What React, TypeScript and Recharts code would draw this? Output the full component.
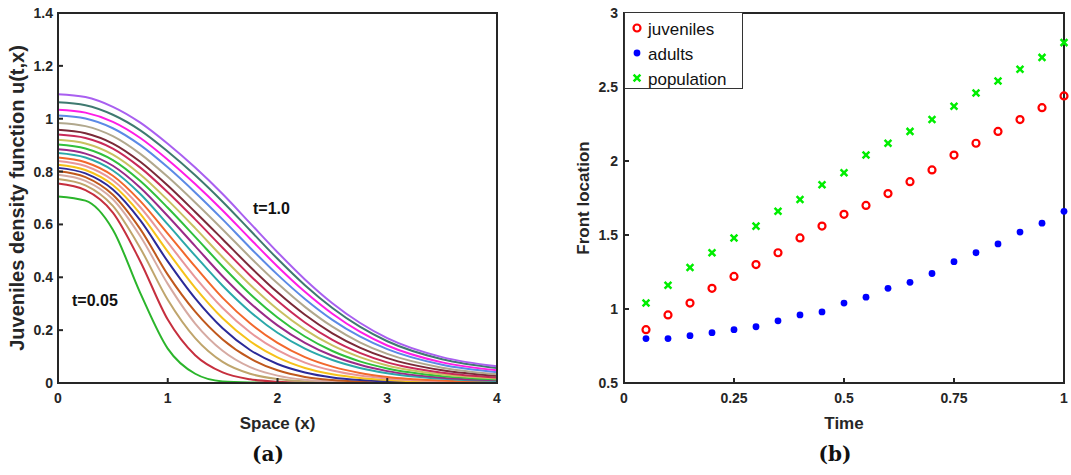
import React from 'react';
import { LineChart, Line, XAxis, YAxis, ScatterChart, Scatter, ReferenceDot, ReferenceArea } from 'recharts';

// ---- panel (a): juveniles density u(t,x), one array per time step ----
const spaceX = [0, 0.25, 0.5, 0.75, 1, 1.25, 1.5, 1.75, 2, 2.25, 2.5, 2.75, 3, 3.5, 4];

const u005 = [0.706, 0.69, 0.58, 0.34, 0.13, 0.035, 0.006, 0.002, 0.001, 0, 0, 0, 0, 0, 0];
const u010 = [0.755, 0.73, 0.645, 0.46, 0.24, 0.105, 0.04, 0.014, 0.005, 0.002, 0.001, 0, 0, 0, 0];
const u015 = [0.772, 0.748, 0.67, 0.51, 0.315, 0.17, 0.08, 0.035, 0.015, 0.006, 0.002, 0.001, 0, 0, 0];
const u020 = [0.788, 0.765, 0.695, 0.555, 0.375, 0.225, 0.122, 0.06, 0.028, 0.012, 0.005, 0.002, 0.001, 0, 0];
const u025 = [0.801, 0.779, 0.712, 0.582, 0.41, 0.27, 0.165, 0.093, 0.048, 0.023, 0.011, 0.005, 0.002, 0, 0];
const u030 = [0.814, 0.793, 0.732, 0.615, 0.46, 0.32, 0.207, 0.125, 0.072, 0.04, 0.021, 0.011, 0.006, 0.002, 0.001];
const u035 = [0.826, 0.806, 0.749, 0.64, 0.497, 0.36, 0.245, 0.158, 0.097, 0.057, 0.033, 0.019, 0.011, 0.004, 0.001];
const u040 = [0.84, 0.821, 0.767, 0.665, 0.532, 0.4, 0.284, 0.192, 0.124, 0.077, 0.047, 0.028, 0.017, 0.006, 0.002];
const u045 = [0.853, 0.835, 0.784, 0.688, 0.565, 0.44, 0.322, 0.226, 0.152, 0.098, 0.062, 0.038, 0.023, 0.009, 0.003];
const u050 = [0.87, 0.853, 0.804, 0.715, 0.6, 0.482, 0.368, 0.27, 0.19, 0.13, 0.087, 0.057, 0.037, 0.016, 0.008];
const u055 = [0.884, 0.868, 0.822, 0.739, 0.632, 0.518, 0.404, 0.303, 0.218, 0.152, 0.103, 0.069, 0.045, 0.02, 0.01];
const u060 = [0.902, 0.887, 0.843, 0.764, 0.663, 0.553, 0.441, 0.337, 0.248, 0.176, 0.121, 0.082, 0.055, 0.026, 0.013];
const u065 = [0.92, 0.906, 0.864, 0.789, 0.692, 0.586, 0.476, 0.372, 0.279, 0.202, 0.142, 0.098, 0.066, 0.032, 0.017];
const u070 = [0.94, 0.927, 0.887, 0.815, 0.722, 0.619, 0.512, 0.407, 0.311, 0.229, 0.163, 0.114, 0.078, 0.039, 0.021];
const u075 = [0.958, 0.945, 0.906, 0.837, 0.747, 0.647, 0.544, 0.44, 0.343, 0.258, 0.188, 0.134, 0.094, 0.048, 0.027];
const u080 = [0.984, 0.972, 0.934, 0.867, 0.78, 0.683, 0.581, 0.476, 0.377, 0.288, 0.213, 0.154, 0.11, 0.058, 0.033];
const u085 = [1.012, 1.001, 0.964, 0.9, 0.816, 0.721, 0.619, 0.512, 0.41, 0.318, 0.239, 0.176, 0.128, 0.069, 0.041];
const u090 = [1.034, 1.023, 0.988, 0.927, 0.845, 0.753, 0.653, 0.546, 0.441, 0.345, 0.262, 0.194, 0.142, 0.078, 0.048];
const u095 = [1.062, 1.051, 1.015, 0.956, 0.876, 0.786, 0.686, 0.578, 0.47, 0.37, 0.284, 0.213, 0.158, 0.09, 0.057];
const u100 = [1.093, 1.082, 1.045, 0.985, 0.905, 0.815, 0.715, 0.605, 0.495, 0.392, 0.302, 0.228, 0.17, 0.098, 0.063];

const profiles = [
  { key: 'u005', values: u005, color: '#2bb52b' },
  { key: 'u010', values: u010, color: '#c62f3e' },
  { key: 'u015', values: u015, color: '#bfa56c' },
  { key: 'u020', values: u020, color: '#d6aaa2' },
  { key: 'u025', values: u025, color: '#c0581c' },
  { key: 'u030', values: u030, color: '#2b2a98' },
  { key: 'u035', values: u035, color: '#f6c21a' },
  { key: 'u040', values: u040, color: '#e8979a' },
  { key: 'u045', values: u045, color: '#f2682c' },
  { key: 'u050', values: u050, color: '#2ba8aa' },
  { key: 'u055', values: u055, color: '#9a2a88' },
  { key: 'u060', values: u060, color: '#30c03c' },
  { key: 'u065', values: u065, color: '#c9c062' },
  { key: 'u070', values: u070, color: '#c92a58' },
  { key: 'u075', values: u075, color: '#7a2a38' },
  { key: 'u080', values: u080, color: '#b1a88e' },
  { key: 'u085', values: u085, color: '#5b8ae6' },
  { key: 'u090', values: u090, color: '#ff1de6' },
  { key: 'u095', values: u095, color: '#3f7a70' },
  { key: 'u100', values: u100, color: '#a95ff0' },
];

const densityRows = spaceX.map((x, i) => {
  const row: Record<string, number> = { x };
  profiles.forEach((p) => { row[p.key] = p.values[i]; });
  return row;
});

const spaceTicks = [0, 1, 2, 3, 4];
const densityTicks = [0, 0.2, 0.4, 0.6, 0.8, 1, 1.2, 1.4];

// ---- panel (b): front locations ----
const times = [0.05, 0.1, 0.15, 0.2, 0.25, 0.3, 0.35, 0.4, 0.45, 0.5, 0.55, 0.6, 0.65, 0.7, 0.75, 0.8, 0.85, 0.9, 0.95, 1];
const juveniles = [0.86, 0.96, 1.04, 1.14, 1.22, 1.3, 1.38, 1.48, 1.56, 1.64, 1.7, 1.78, 1.86, 1.94, 2.04, 2.12, 2.2, 2.28, 2.36, 2.44];
const adults = [0.8, 0.8, 0.82, 0.84, 0.86, 0.88, 0.92, 0.96, 0.98, 1.04, 1.08, 1.14, 1.18, 1.24, 1.32, 1.38, 1.44, 1.52, 1.58, 1.66];
const population = [1.04, 1.16, 1.28, 1.38, 1.48, 1.56, 1.66, 1.74, 1.84, 1.92, 2.04, 2.12, 2.2, 2.28, 2.37, 2.46, 2.54, 2.62, 2.7, 2.8];

const timeTicks = [0, 0.25, 0.5, 0.75, 1];
const frontTicks = [0.5, 1, 1.5, 2, 2.5, 3];

const toPoints = (vals: number[]) => times.map((t, i) => ({ t, v: vals[i] }));

const AXIS = '#262626';
const FONT = '"Liberation Sans", Arial, sans-serif';
const tickStyle = { fontSize: 14, fontWeight: 700, fill: AXIS, fontFamily: FONT };
const titleStyle = { fontSize: 17, fontWeight: 700, fill: AXIS, fontFamily: FONT };
const axisLine = { stroke: AXIS, strokeWidth: 2 };

const RED = '#ff0000';
const BLUE = '#0000ff';
const GREEN = '#00ee00';

const OpenCircle = (props: any) => (
  <circle cx={props.cx} cy={props.cy} r={3.5} fill="none" stroke={RED} strokeWidth={2.2} />
);
const FilledDot = (props: any) => (
  <circle cx={props.cx} cy={props.cy} r={3.4} fill={BLUE} />
);
const Cross = (props: any) => {
  const { cx, cy } = props;
  const s = 3.4;
  return (
    <path
      d={`M${cx - s},${cy - s}L${cx + s},${cy + s}M${cx - s},${cy + s}L${cx + s},${cy - s}`}
      stroke={GREEN}
      strokeWidth={2.5}
      fill="none"
    />
  );
};
const NoMark = () => <g />;

const legendItems = [
  { name: 'juveniles', Marker: OpenCircle },
  { name: 'adults', Marker: FilledDot },
  { name: 'population', Marker: Cross },
];

const panelLabel: React.CSSProperties = {
  position: 'absolute',
  top: 442,
  fontFamily: '"DejaVu Serif", serif',
  fontWeight: 700,
  fontSize: 20,
  color: '#111',
  transform: 'translateX(-50%)',
};

const App = () => {
  return (
    <div style={{ position: 'absolute', left: 0, top: 0, width: 1071, height: 475, background: '#fff' }}>
      <div style={{ position: 'absolute', left: 0, top: 0 }}>
        <LineChart width={520} height={475} data={densityRows} margin={{ top: 12, right: 22, bottom: 42, left: 0 }}>
          <XAxis
            dataKey="x"
            type="number"
            domain={[0, 4]}
            ticks={spaceTicks}
            tickSize={-5}
            tickMargin={15}
            height={50}
            axisLine={axisLine}
            tickLine={axisLine}
            tick={tickStyle}
            label={{ value: 'Space (x)', position: 'insideBottom', offset: 4, ...titleStyle }}
          />
          <XAxis xAxisId="top" dataKey="x" orientation="top" type="number" domain={[0, 4]} ticks={spaceTicks}
            tick={false} tickSize={-5} height={1} axisLine={axisLine} tickLine={axisLine} />
          <YAxis
            type="number"
            domain={[0, 1.4]}
            ticks={densityTicks}
            tickSize={-5}
            tickMargin={10}
            width={58}
            axisLine={axisLine}
            tickLine={axisLine}
            tick={tickStyle}
            label={{ value: 'Juveniles density function u(t,x)', angle: -90, position: 'insideLeft', offset: 17, ...titleStyle, fontSize: 20, style: { textAnchor: 'middle' } }}
          />
          <YAxis yAxisId="right" orientation="right" type="number" domain={[0, 1.4]} ticks={densityTicks}
            tick={false} tickSize={-5} width={1} axisLine={axisLine} tickLine={axisLine} />
          <Line xAxisId="top" yAxisId="right" dataKey="u100" stroke="none" dot={false} legendType="none" isAnimationActive={false} />
          {profiles.map((p) => (
            <Line
              key={p.key}
              type="monotone"
              dataKey={p.key}
              stroke={p.color}
              strokeWidth={2}
              dot={false}
              isAnimationActive={false}
            />
          ))}
          <ReferenceArea x1={0} x2={4} y1={0} y2={1.4} fill="none" stroke={AXIS} strokeWidth={2} ifOverflow="visible" />
          <ReferenceDot x={1.945} y={0.66} r={1} fill="none" stroke="none"
            label={{ value: 't=1.0', position: 'center', fontSize: 16, fontWeight: 700, fill: '#111', fontFamily: FONT }} />
          <ReferenceDot x={0.336} y={0.313} r={1} fill="none" stroke="none"
            label={{ value: 't=0.05', position: 'center', fontSize: 16, fontWeight: 700, fill: '#111', fontFamily: FONT }} />
        </LineChart>
      </div>
      <div style={{ ...panelLabel, left: 268 }}>(a)</div>

      <div style={{ position: 'absolute', left: 540, top: 0 }}>
        <ScatterChart width={531} height={475} margin={{ top: 12, right: 6, bottom: 42, left: 0 }}>
          <XAxis
            dataKey="t"
            type="number"
            domain={[0, 1]}
            ticks={timeTicks}
            tickSize={-5}
            tickMargin={15}
            height={50}
            axisLine={axisLine}
            tickLine={axisLine}
            tick={tickStyle}
            label={{ value: 'Time', position: 'insideBottom', offset: 4, ...titleStyle }}
          />
          <XAxis xAxisId="top" dataKey="t" orientation="top" type="number" domain={[0, 1]} ticks={timeTicks}
            tick={false} tickSize={-5} height={1} axisLine={axisLine} tickLine={axisLine} />
          <YAxis
            dataKey="v"
            type="number"
            domain={[0.5, 3]}
            ticks={frontTicks}
            tickSize={-5}
            tickMargin={11}
            width={84}
            axisLine={axisLine}
            tickLine={axisLine}
            tick={tickStyle}
            label={{ value: 'Front location', angle: -90, position: 'insideLeft', offset: 43, ...titleStyle, style: { textAnchor: 'middle' } }}
          />
          <YAxis yAxisId="right" dataKey="v" orientation="right" type="number" domain={[0.5, 3]} ticks={frontTicks}
            tick={false} tickSize={-5} width={1} axisLine={axisLine} tickLine={axisLine} />
          <Scatter xAxisId="top" yAxisId="right" data={toPoints(adults)} dataKey="v" shape={NoMark} legendType="none" isAnimationActive={false} />
          <ReferenceArea x1={0} x2={1} y1={0.5} y2={3} fill="none" stroke={AXIS} strokeWidth={2} ifOverflow="visible" />
          <Scatter name="juveniles" data={toPoints(juveniles)} dataKey="v" shape={OpenCircle} isAnimationActive={false} />
          <Scatter name="adults" data={toPoints(adults)} dataKey="v" shape={FilledDot} isAnimationActive={false} />
          <Scatter name="population" data={toPoints(population)} dataKey="v" shape={Cross} isAnimationActive={false} />
        </ScatterChart>
      </div>
      <div style={{ ...panelLabel, left: 835 }}>(b)</div>

      <div
        style={{
          position: 'absolute',
          left: 624,
          top: 12,
          width: 119,
          height: 77,
          border: '1px solid #333',
          background: '#fff',
          fontFamily: FONT,
          fontSize: 17,
          color: '#111',
          boxSizing: 'border-box',
          paddingTop: 4,
        }}
      >
        {legendItems.map(({ name, Marker }) => (
          <div key={name} style={{ display: 'flex', alignItems: 'center', height: 25 }}>
            <svg width={20} height={20} style={{ marginLeft: 2 }}>
              <Marker cx={10} cy={8} />
            </svg>
            <span style={{ marginLeft: 1 }}>{name}</span>
          </div>
        ))}
      </div>
    </div>
  );
};

export default App;
